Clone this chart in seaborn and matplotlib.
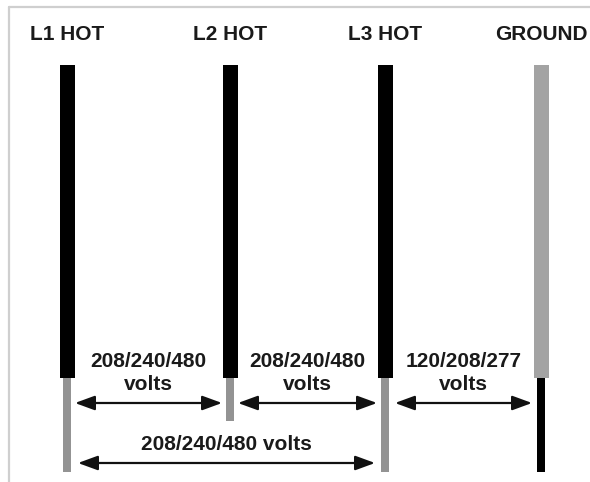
import matplotlib
matplotlib.use('Agg')
import matplotlib.pyplot as plt
import seaborn as sns

# 数据
wires = ['L1 HOT', 'L2 HOT', 'L3 HOT', 'GROUND']
upper_color = ['#000000', '#000000', '#000000', '#a3a3a3']
lower_color = ['#939393', '#939393', '#939393', '#000000']
spans_from = [0, 1, 2, 0]
spans_to = [1, 2, 3, 2]
span_labels = ['208/240/480\nvolts', '208/240/480\nvolts', '120/208/277\nvolts', '208/240/480 volts']

# 版面（像素坐标）
wire_x = [67, 230, 385, 541]
top_y, joint_y = 65, 378
lower_end = [472, 421, 472, 472]
upper_w = [15, 15, 15, 15]
lower_w = [8, 8, 8, 8]
arrow_y = [403, 403, 403, 463]
label_y = [373, 373, 373, 445]
arrow_gap = [(8, 8), (8, 8), (10, 9), (11, 10)]

sns.set_theme(style='white')
plt.rcParams['font.family'] = ['Liberation Sans', 'DejaVu Sans']

fig = plt.figure(figsize=(5.9, 4.82), dpi=100)
ax = fig.add_axes([0, 0, 1, 1])
ax.set_xlim(0, 590)
ax.set_ylim(482, 0)
ax.axis('off')

# 边框
ax.plot([9, 590], [7, 7], color='#cfcfcf', lw=1.6)
ax.plot([9, 9], [7, 482], color='#cfcfcf', lw=1.6)

for i, name in enumerate(wires):
    x = wire_x[i]
    ax.bar(x, joint_y - top_y, bottom=top_y, width=upper_w[i], color=upper_color[i], lw=0)
    ax.bar(x, lower_end[i] - joint_y, bottom=joint_y, width=lower_w[i], color=lower_color[i], lw=0)
    ax.text(x, 34, name, ha='center', va='center', fontsize=15, fontweight='bold', color='#1a1a1a')

for a, b, lab, y, ly, g in zip(spans_from, spans_to, span_labels, arrow_y, label_y, arrow_gap):
    x0 = wire_x[a] + g[0]
    x1 = wire_x[b] - g[1]
    ax.annotate('', xy=(x1, y), xytext=(x0, y),
                arrowprops=dict(arrowstyle='<|-|>,head_length=0.6,head_width=0.22',
                                color='#111111', lw=1.6,
                                mutation_scale=20, shrinkA=0, shrinkB=0))
    ax.text((x0 + x1) / 2, ly, lab, ha='center', va='center', fontsize=15,
            fontweight='bold', color='#1a1a1a', linespacing=1.3)

fig.savefig('out.png', dpi=100)
